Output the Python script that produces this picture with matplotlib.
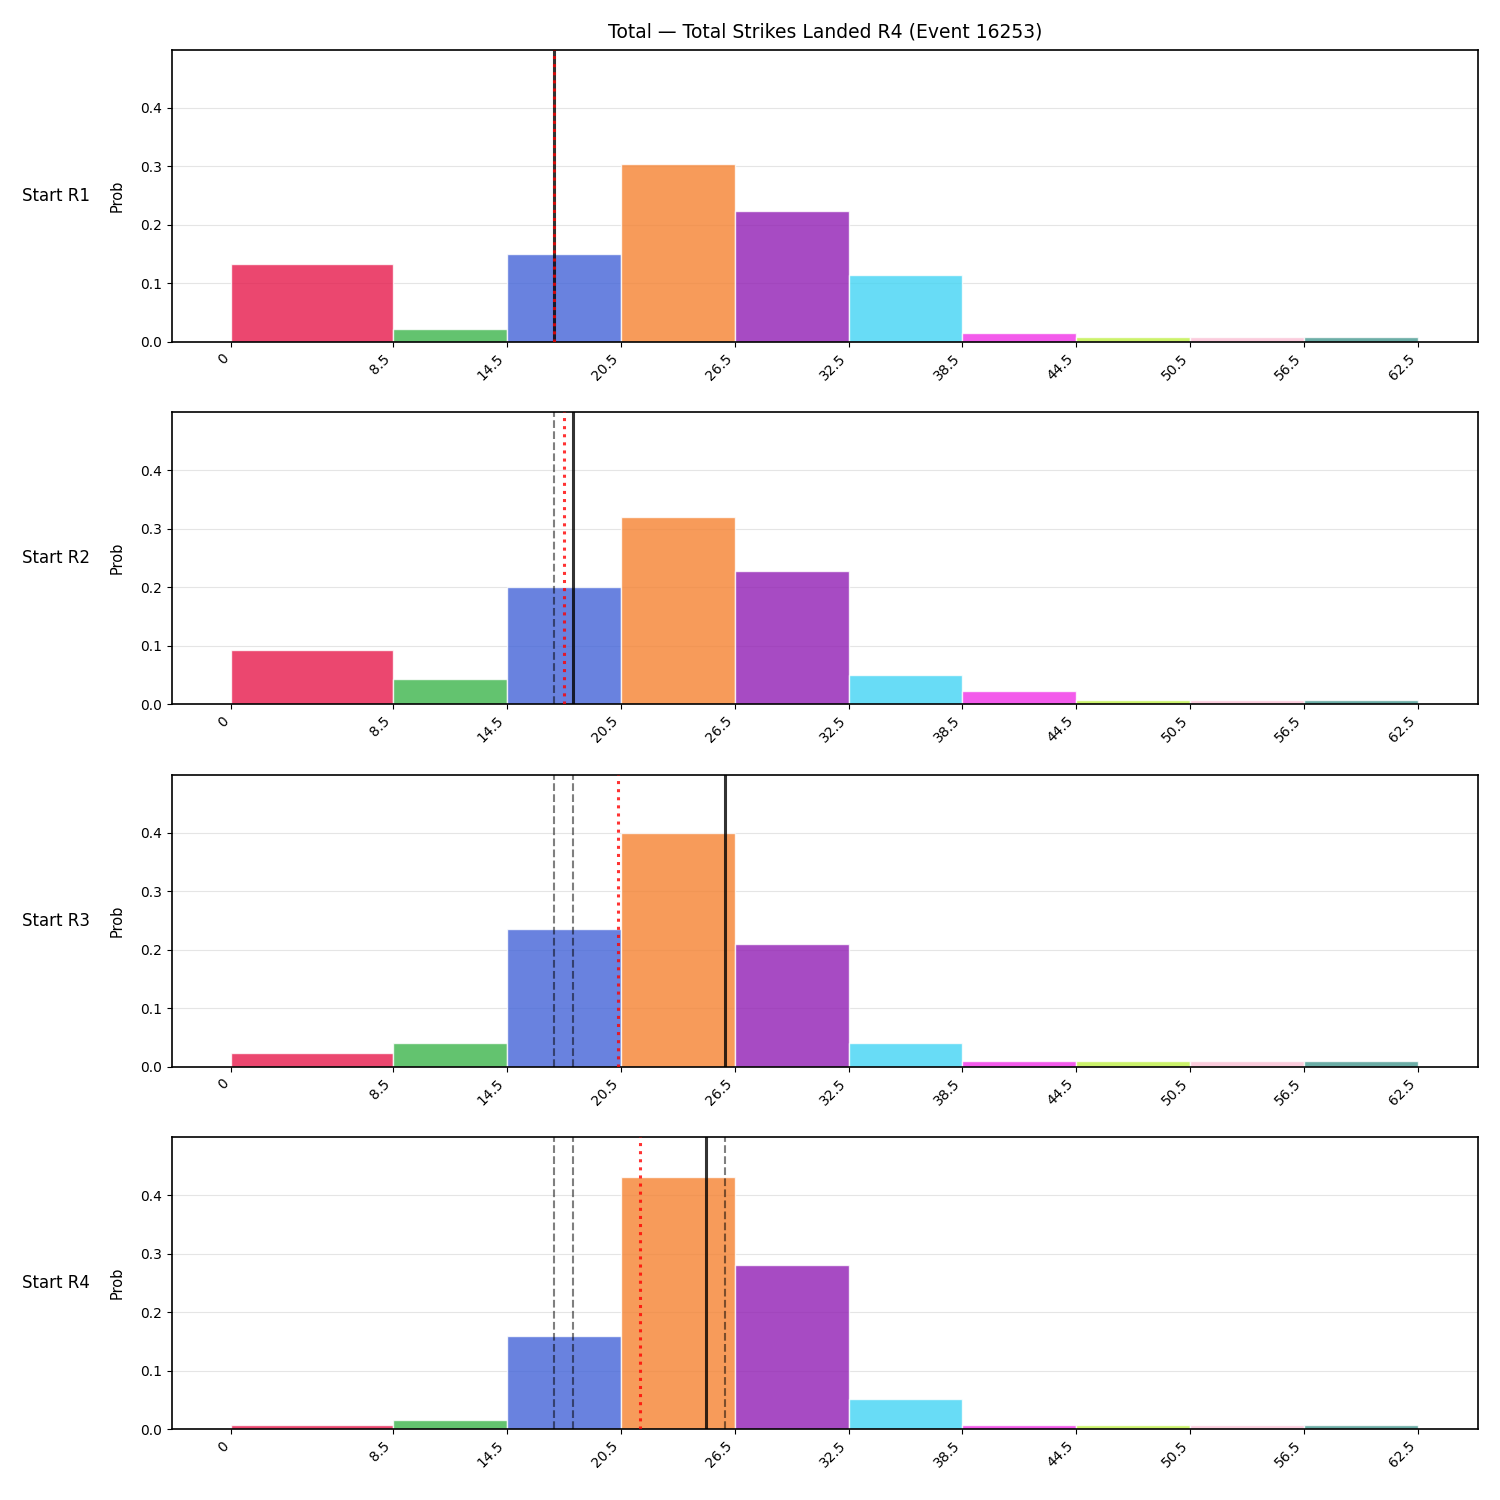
import matplotlib
matplotlib.use("Agg")
import matplotlib.pyplot as plt

# bin edges and labels
edges = [0, 8.5, 14.5, 20.5, 26.5, 32.5, 38.5, 44.5, 50.5, 56.5, 62.5]
edge_labels = ["0", "8.5", "14.5", "20.5", "26.5", "32.5", "38.5", "44.5", "50.5", "56.5", "62.5"]

bin_colors = ["#e6194B", "#3cb44b", "#4363d8", "#f58231", "#911eb4",
              "#42d4f4", "#f032e6", "#bfef45", "#fabed4", "#469990"]

row_names = ["Start R1", "Start R2", "Start R3", "Start R4"]

probs_r1 = [0.132, 0.022, 0.150, 0.304, 0.224, 0.113, 0.014, 0.008, 0.008, 0.008]
probs_r2 = [0.093, 0.043, 0.200, 0.320, 0.228, 0.050, 0.022, 0.007, 0.007, 0.007]
probs_r3 = [0.024, 0.041, 0.236, 0.400, 0.209, 0.041, 0.009, 0.009, 0.009, 0.009]
probs_r4 = [0.007, 0.015, 0.159, 0.431, 0.280, 0.051, 0.007, 0.007, 0.007, 0.007]
all_probs = [probs_r1, probs_r2, probs_r3, probs_r4]

# running total after each round, and expected total at start of each round
actual_totals = [17, 18, 26, 25]
expected_totals = [17.0, 17.5, 20.35, 21.5]

title = "Total \u2014 Total Strikes Landed R4 (Event 16253)"

fig, axes = plt.subplots(4, 1, figsize=(15, 15), dpi=100)
fig.subplots_adjust(left=0.1147, right=0.985, top=0.9667, bottom=0.0473, hspace=0.243)

ymax = max(max(p) for p in all_probs) * 1.157

for i, ax in enumerate(axes):
    probs = all_probs[i]
    lefts = edges[:-1]
    widths = [edges[k + 1] - edges[k] for k in range(len(lefts))]
    ax.bar(lefts, probs, width=widths, align="edge", color=bin_colors,
           alpha=0.8, edgecolor="white", linewidth=1, zorder=2)

    # earlier rounds' totals
    for prev in actual_totals[:i]:
        ax.axvline(prev, color="black", linestyle="--", linewidth=1.5, alpha=0.5, zorder=3)
    ax.axvline(actual_totals[i], color="black", linewidth=2.2, alpha=0.8, zorder=4)
    ax.axvline(expected_totals[i], color="red", linestyle=":", linewidth=2.2, alpha=0.8, zorder=5)

    ax.set_ylim(0, ymax)
    ax.set_xticks(edges)
    ax.set_xticklabels(edge_labels, rotation=45, ha="right", fontsize=10)
    ax.tick_params(axis="y", labelsize=10)
    ax.set_yticks([0.0, 0.1, 0.2, 0.3, 0.4])
    ax.grid(axis="y", color="#e5e5e5", linewidth=0.8, zorder=0)
    ax.set_axisbelow(True)
    ax.set_ylabel("Prob", fontsize=10.5, labelpad=11)
    for s in ax.spines.values():
        s.set_linewidth(1.2)
    ax.text(-0.063, 0.5, row_names[i], transform=ax.transAxes,
            ha="right", va="center", fontsize=12)

axes[0].set_title(title, fontsize=13.5, pad=9)

fig.savefig("out.png", dpi=100)
